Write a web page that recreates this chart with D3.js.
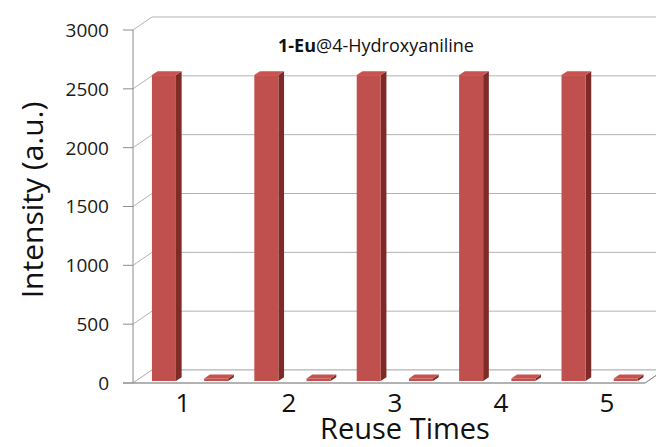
<!DOCTYPE html>
<html lang="en">
<head>
<meta charset="UTF-8">
<title>1-Eu@4-Hydroxyaniline reuse</title>
<script src="https://d3js.org/d3.v7.min.js"></script>
<style>
  body { margin: 0; background: #fff; }
  svg { display: block; font-family: "Open Sans", "Noto Sans", sans-serif; }
</style>
</head>
<body>
<div id="chart"></div>
<script>
// data
const reuseTimes = ["1", "2", "3", "4", "5"];
const seriesNames = ["before", "after"];
const beforeValues = [2600, 2600, 2600, 2600, 2600];
const afterValues = [22, 22, 22, 22, 22];
const yTicks = [0, 500, 1000, 1500, 2000, 2500, 3000];

const width = 656, height = 447;
// front plane of the 3-D box and the depth offset of the back wall
const plotLeft = 133, plotRight = 645, plotBottom = 383, plotTop = 30;
const depth = { dx: 19, dy: -13 };
const barFront = 0.15, barBack = 0.45;   // fraction of depth the bars sit in

const colors = { front: "#c0504d", side: "#7e2b28", top: "#c9524e" };
const gridColor = "#b3b3b3", axisColor = "#8c8c8c";

const svg = d3.select("#chart").append("svg")
  .attr("width", width)
  .attr("height", height);

const y = d3.scaleLinear().domain([0, 3000]).range([plotBottom, plotTop]);
const x = d3.scaleBand().domain(reuseTimes).range([136, 648]);
const xInner = d3.scaleBand().domain(seriesNames)
  .range([0, x.bandwidth()]).paddingInner(0.54).paddingOuter(0.25);
const xLabel = d3.scaleBand().domain(reuseTimes).range([130, 660]);

// back wall gridlines
const grid = svg.append("g").attr("stroke", gridColor).attr("fill", "none");
yTicks.forEach(t => {
  grid.append("line")
    .attr("x1", plotLeft + depth.dx).attr("x2", plotRight + depth.dx + 20)
    .attr("y1", y(t) + depth.dy).attr("y2", y(t) + depth.dy);
  // side wall diagonals
  grid.append("line")
    .attr("x1", plotLeft).attr("y1", y(t))
    .attr("x2", plotLeft + depth.dx).attr("y2", y(t) + depth.dy);
});

// floor
svg.append("path")
  .attr("fill", "#fff")
  .attr("stroke", gridColor)
  .attr("d", d3.line()([
    [plotLeft, plotBottom], [plotRight, plotBottom],
    [plotRight + depth.dx, plotBottom + depth.dy], [plotLeft + depth.dx, plotBottom + depth.dy]
  ]) + "Z");

// bars
const rows = [];
reuseTimes.forEach((r, i) => {
  rows.push({ r, s: "before", v: beforeValues[i] });
  rows.push({ r, s: "after", v: afterValues[i] });
});

const ox = depth.dx * barFront, oy = depth.dy * barFront;
const bx = depth.dx * (barBack - barFront), by = depth.dy * (barBack - barFront);

const bar = svg.append("g").selectAll("g")
  .data(rows)
  .join("g");

bar.append("path") // side
  .attr("fill", colors.side)
  .attr("d", d => {
    const x1 = x(d.r) + xInner(d.s) + xInner.bandwidth() + ox;
    const y0 = y(0) + oy, y1 = y(d.v) + oy;
    return d3.line()([[x1, y0], [x1, y1], [x1 + bx, y1 + by], [x1 + bx, y0 + by]]) + "Z";
  });

bar.append("path") // top
  .attr("fill", colors.top)
  .attr("d", d => {
    const x0 = x(d.r) + xInner(d.s) + ox;
    const x1 = x0 + xInner.bandwidth();
    const y1 = y(d.v) + oy;
    return d3.line()([[x0, y1], [x1, y1], [x1 + bx, y1 + by], [x0 + bx, y1 + by]]) + "Z";
  });

bar.append("rect") // front
  .attr("fill", colors.front)
  .attr("x", d => x(d.r) + xInner(d.s) + ox)
  .attr("y", d => y(d.v) + oy)
  .attr("width", xInner.bandwidth())
  .attr("height", d => y(0) - y(d.v));

// front axis line and ticks
svg.append("line")
  .attr("stroke", axisColor)
  .attr("x1", plotLeft).attr("x2", plotLeft)
  .attr("y1", plotTop).attr("y2", plotBottom);
svg.append("line")
  .attr("stroke", axisColor)
  .attr("x1", plotLeft - 10).attr("x2", plotRight)
  .attr("y1", plotBottom).attr("y2", plotBottom);
svg.append("line")
  .attr("stroke", axisColor)
  .attr("x1", plotRight).attr("y1", plotBottom)
  .attr("x2", plotRight + depth.dx).attr("y2", plotBottom + depth.dy);

const yAxis = svg.append("g");
yAxis.selectAll("line")
  .data(yTicks)
  .join("line")
  .attr("stroke", axisColor)
  .attr("x1", plotLeft - 10).attr("x2", plotLeft)
  .attr("y1", d => y(d)).attr("y2", d => y(d));
yAxis.selectAll("text")
  .data(yTicks)
  .join("text")
  .attr("x", 109)
  .attr("y", d => y(d))
  .attr("dy", "0.36em")
  .attr("text-anchor", "end")
  .attr("font-size", 19)
  .attr("fill", "#1a1a1a")
  .text(d => d);

svg.append("g").selectAll("text")
  .data(reuseTimes)
  .join("text")
  .attr("x", d => xLabel(d) + xLabel.bandwidth() / 2)
  .attr("y", 412)
  .attr("text-anchor", "middle")
  .attr("font-size", 26)
  .attr("fill", "#111")
  .text(d => d);

// axis titles
svg.append("text")
  .attr("x", 405).attr("y", 439)
  .attr("text-anchor", "middle")
  .attr("font-size", 29)
  .attr("fill", "#111")
  .text("Reuse Times");

svg.append("text")
  .attr("transform", "translate(43,200) rotate(-90)")
  .attr("text-anchor", "middle")
  .attr("font-size", 30)
  .attr("fill", "#111")
  .text("Intensity (a.u.)");

// chart title
const title = svg.append("text")
  .attr("x", 376).attr("y", 52)
  .attr("text-anchor", "middle")
  .attr("font-size", 18)
  .attr("fill", "#111");
title.append("tspan").attr("font-weight", "bold").text("1-Eu");
title.append("tspan").text("@4-Hydroxyaniline");
</script>
</body>
</html>
